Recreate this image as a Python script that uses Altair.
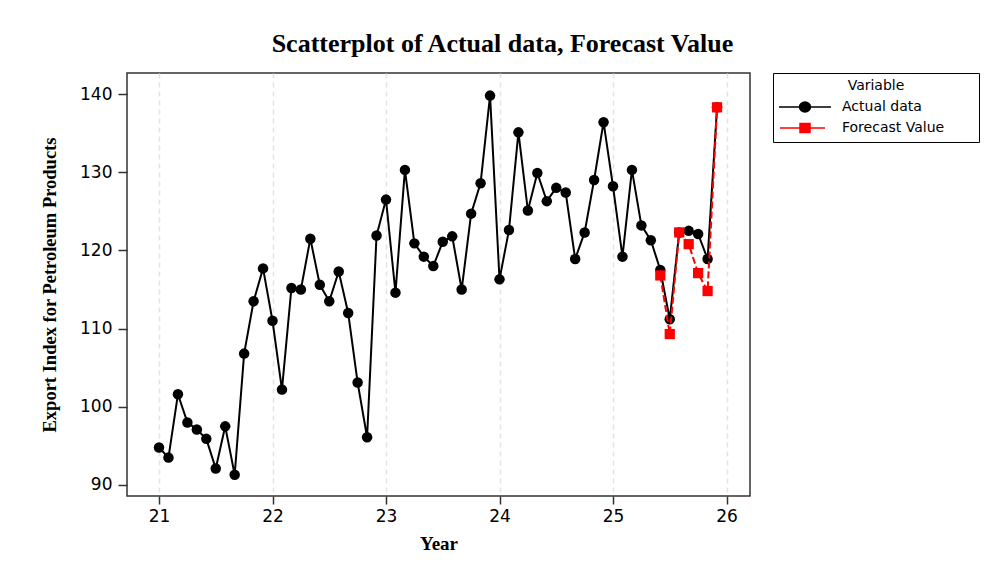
import altair as alt
import pandas as pd

# ---- data (monthly, starting at year 21) ----
actual = [94.8, 93.5, 101.6, 98.0, 97.1, 95.9, 92.1, 97.5, 91.3, 106.8, 113.5, 117.7,
          111.0, 102.2, 115.2, 115.0, 121.5, 115.6, 113.5, 117.3, 112.0, 103.1, 96.1, 121.9,
          126.5, 114.6, 130.3, 120.9, 119.2, 118.0, 121.1, 121.8, 115.0, 124.7, 128.6, 139.8,
          116.3, 122.6, 135.1, 125.1, 129.9, 126.3, 128.0, 127.4, 118.9, 122.3, 129.0, 136.4,
          128.2, 119.2, 130.3, 123.2, 121.3, 117.5, 111.2, 122.3, 122.5, 122.1, 118.9, 138.3]
forecast = [116.8, 109.3, 122.3, 120.8, 117.1, 114.8, 138.3]
forecast_start = 53  # month index of the first forecast value
start_year = 21
series = ["Actual data", "Forecast Value"]
series_colors = ["black", "red"]
x_ticks = [21, 22, 23, 24, 25, 26]
y_ticks = [90, 100, 110, 120, 130, 140]

years_actual = [start_year + i / 12 for i in range(len(actual))]
years_fc = [start_year + (forecast_start + i) / 12 for i in range(len(forecast))]

df = pd.DataFrame({
    "Year": years_actual + years_fc,
    "Value": actual + forecast,
    "Variable": [series[0]] * len(actual) + [series[1]] * len(forecast),
})

path_actual = "M-2.6,0H2.6M-0.55,0A0.55,0.5,0,1,0,0.55,0A0.55,0.5,0,1,0,-0.55,0ZM16.5,0"
path_fc = "M-2.5,0H2.0M-0.5,-0.45H0.5V0.45H-0.5Z"

legend = alt.Legend(
    title="Variable", orient="none", legendX=646, legendY=0,
    strokeColor="black", fillColor="white", padding=6,
    symbolSize=400, symbolStrokeWidth=1.5, symbolOffset=15, labelOffset=26,
    symbolType=alt.ExprRef("datum.value === 'Actual data' ? '%s' : '%s'" % (path_actual, path_fc)),
    symbolFillColor=alt.ExprRef("datum.value === 'Actual data' ? 'black' : 'red'"),
    symbolStrokeColor=alt.ExprRef("datum.value === 'Actual data' ? 'black' : 'red'"),
    labelFont="DejaVu Sans", labelFontSize=14, labelColor="black",
    titleFont="DejaVu Sans", titleFontSize=14, titleFontWeight="normal", titleColor="black",
    titlePadding=3, rowPadding=2, titleAnchor="middle",
)

x = alt.X("Year:Q",
          scale=alt.Scale(domain=[20.718, 26.207], nice=False, zero=False),
          axis=alt.Axis(values=x_ticks, title="Year", grid=True, gridDash=[5, 4],
                        gridColor="#e3e3e3", gridWidth=1.5, tickSize=8, labelPadding=4,
                        titleFontSize=19, titlePadding=10, format="d"))
y = alt.Y("Value:Q",
          scale=alt.Scale(domain=[88.59, 142.69], nice=False, zero=False),
          axis=alt.Axis(values=y_ticks, title="Export Index for Petroleum Products",
                        grid=False, tickSize=9, labelPadding=6,
                        titleFontSize=18.5, titlePadding=20, format="d"))
color = alt.Color("Variable:N", scale=alt.Scale(domain=series, range=series_colors), legend=legend)

base = alt.Chart(df)
act = base.transform_filter(alt.datum.Variable == series[0])
fc = base.transform_filter(alt.datum.Variable == series[1])

layers = [
    act.mark_line(strokeWidth=2).encode(x=x, y=y, color=color),
    act.mark_point(filled=True, size=110, opacity=1, shape="circle").encode(x=x, y=y, color=color),
    fc.mark_line(strokeWidth=2, strokeDash=[7, 3]).encode(x=x, y=y, color=color),
    fc.mark_point(filled=True, size=105, opacity=1, shape="square").encode(x=x, y=y, color=color),
]

chart = alt.layer(*layers).properties(
    width=623, height=423,
    title=alt.Title("Scatterplot of Actual data, Forecast Value", dx=64),
    autosize=alt.AutoSizeParams(type="none"),
    padding={"left": 119, "top": 65, "right": 231, "bottom": 60},
).configure_view(
    stroke="#333333", strokeWidth=1.5
).configure_axis(
    labelFont="DejaVu Sans", labelFontSize=17, labelColor="black",
    tickColor="#333333", tickWidth=1.5, domain=False,
    titleFont="Liberation Serif", titleFontWeight="bold", titleColor="black",
).configure_title(
    font="Liberation Serif", fontSize=26, fontWeight="bold", color="black",
    anchor="middle", offset=16,
)

chart.save("out.html", embed_options={"renderer": "svg", "actions": False})
